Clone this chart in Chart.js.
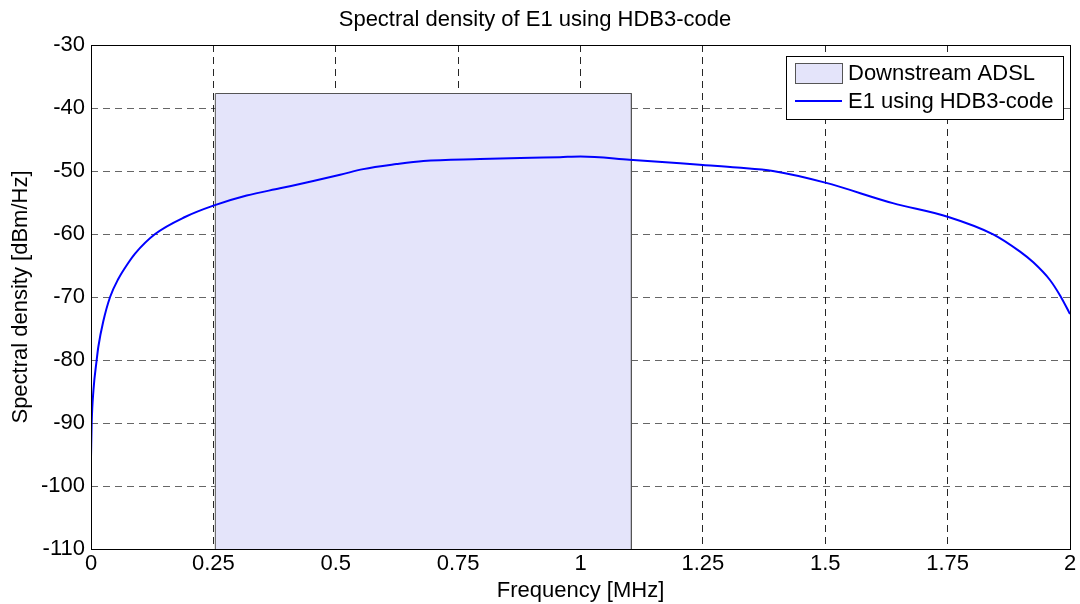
<!DOCTYPE html>
<html>
<head>
<meta charset="utf-8">
<script src="https://cdn.jsdelivr.net/npm/chart.js@4"></script>
<style>
  html, body { margin: 0; padding: 0; background: #fff; }
  #wrap { width: 1080px; height: 604px; }
</style>
</head>
<body>
<div id="wrap"><canvas id="chart" width="1080" height="604"></canvas></div>
<script>
// values
const freqMHz = [0, 0.0014, 0.005, 0.0116, 0.015, 0.025, 0.039, 0.056, 0.076, 0.09, 0.131, 0.192, 0.25, 0.318, 0.386, 0.454, 0.509, 0.556, 0.624, 0.679, 0.795, 0.9, 0.958, 1.0, 1.1, 1.25, 1.32, 1.393, 1.5, 1.638, 1.75, 1.843, 1.898, 1.925, 1.959, 1.98, 2.0];
const densityDbm = [-95.4, -90, -84.8, -80, -77.9, -73.9, -70, -67.1, -64.6, -63.1, -60, -57.3, -55.5, -53.9, -52.75, -51.6, -50.6, -49.7, -48.9, -48.4, -48.1, -47.9, -47.8, -47.7, -48.2, -49.05, -49.45, -50.0, -51.85, -55.1, -57.25, -60.05, -62.8, -64.5, -67.3, -69.8, -72.7];

const adslFreq = [0.254, 0.254, 1.104, 1.104];
const adslLevel = [-110, -37.7, -37.7, -110];

const seriesLabels = ['Downstream ADSL', 'E1 using HDB3-code'];
const xRange = [0, 2];
const yRange = [-110, -30];

const FONT = 'Arial, "Liberation Sans", sans-serif';
const SIZE = 22;

const toPoints = (xs, ys) => xs.map((x, i) => ({ x: x, y: ys[i] }));

// box round the plot + legend inside the top right corner
const matlabFrame = {
  id: 'matlabFrame',
  afterDraw(chart) {
    const { ctx, chartArea: a } = chart;
    ctx.save();
    ctx.strokeStyle = '#000';
    ctx.lineWidth = 1;
    ctx.strokeRect(Math.round(a.left) + 0.5, Math.round(a.top) + 0.5,
      Math.round(a.right - a.left), Math.round(a.bottom - a.top));

    // legend
    const lx = a.right - 284, ly = a.top + 11, lw = 277, lh = 63;
    ctx.fillStyle = '#fff';
    ctx.fillRect(lx, ly, lw, lh);
    ctx.strokeStyle = '#000';
    ctx.strokeRect(lx + 0.5, ly + 0.5, lw, lh);

    ctx.fillStyle = 'rgb(228,228,250)';
    ctx.fillRect(lx + 9, ly + 7, 47, 20);
    ctx.strokeStyle = '#555';
    ctx.strokeRect(lx + 9.5, ly + 7.5, 47, 20);

    ctx.strokeStyle = '#0000ff';
    ctx.lineWidth = 2;
    ctx.beginPath();
    ctx.moveTo(lx + 9, ly + 45);
    ctx.lineTo(lx + 56, ly + 45);
    ctx.stroke();

    ctx.fillStyle = '#000';
    ctx.font = SIZE + 'px ' + FONT;
    ctx.textBaseline = 'middle';
    ctx.textAlign = 'left';
    ctx.fillText(seriesLabels[0], lx + 62, ly + 18);
    ctx.fillText(seriesLabels[1], lx + 62, ly + 46);
    ctx.restore();
  }
};

new Chart(document.getElementById('chart'), {
  type: 'line',
  data: {
    datasets: [
      {
        label: seriesLabels[0],
        data: toPoints(adslFreq, adslLevel),
        borderColor: '#555',
        borderWidth: 1,
        backgroundColor: 'rgb(228,228,250)',
        fill: 'start',
        pointRadius: 0,
        tension: 0,
        order: 2
      },
      {
        label: seriesLabels[1],
        data: toPoints(freqMHz, densityDbm),
        borderColor: '#0000ff',
        borderWidth: 2,
        fill: false,
        pointRadius: 0,
        cubicInterpolationMode: 'monotone',
        order: 1
      }
    ]
  },
  options: {
    responsive: false,
    animation: false,
    layout: { padding: { left: 0, right: 10, top: 0, bottom: 0 } },
    plugins: {
      legend: { display: false },
      tooltip: { enabled: false },
      title: {
        display: true,
        text: 'Spectral density of E1 using HDB3-code',
        color: '#000',
        font: { family: FONT, size: SIZE, weight: 'normal' },
        padding: { top: 7, bottom: 11.6 }
      }
    },
    scales: {
      x: {
        type: 'linear',
        min: xRange[0],
        max: xRange[1],
        afterFit: s => { s.height = 55; },
        ticks: {
          stepSize: 0.25,
          color: '#000',
          padding: 2,
          maxRotation: 0,
          font: { family: FONT, size: SIZE },
          callback: v => String(+v.toFixed(2))
        },
        grid: { color: 'rgba(0,0,0,0.85)', lineWidth: 1, drawTicks: false },
        border: { display: false, dash: [7, 5] },
        title: {
          display: true,
          text: 'Frequency [MHz]',
          color: '#000',
          font: { family: FONT, size: SIZE },
          padding: { top: 0, bottom: 0 }
        }
      },
      y: {
        min: yRange[0],
        max: yRange[1],
        afterFit: s => { s.width = 91; },
        ticks: {
          stepSize: 10,
          color: '#000',
          padding: 6,
          font: { family: FONT, size: SIZE },
          callback: v => String(v)
        },
        grid: { color: 'rgba(0,0,0,0.6)', lineWidth: 1, drawTicks: false },
        border: { display: false, dash: [7, 5] },
        title: {
          display: true,
          text: 'Spectral density [dBm/Hz]',
          color: '#000',
          font: { family: FONT, size: SIZE },
          padding: { top: 8, bottom: 0 }
        }
      }
    }
  },
  plugins: [matlabFrame]
});
</script>
</body>
</html>
